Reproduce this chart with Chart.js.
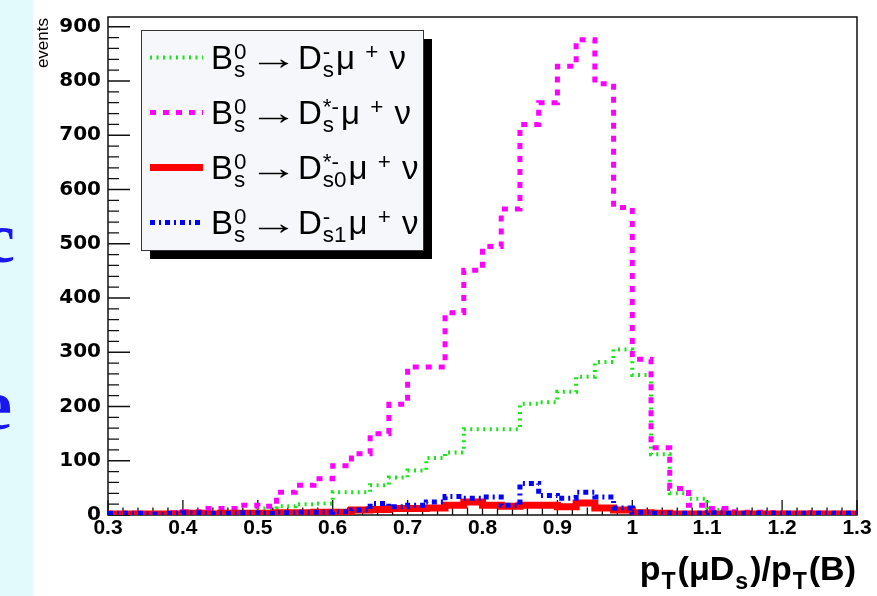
<!DOCTYPE html>
<html>
<head>
<meta charset="utf-8">
<title>pT(muDs)/pT(B)</title>
<script src="https://cdn.jsdelivr.net/npm/chart.js@4.4.1/dist/chart.umd.min.js"></script>
<style>
  html, body { margin: 0; padding: 0; background: #ffffff; }
  #wrap { position: relative; width: 877px; height: 596px; overflow: hidden; }
  #c { position: absolute; left: 0; top: 0; }
</style>
</head>
<body>
<div id="wrap"><canvas id="c" width="877" height="596"></canvas></div>
<script>
// Histogram binning: 40 bins of width 0.025 between 0.3 and 1.3
const binEdges = [0.3, 0.325, 0.35, 0.375, 0.4, 0.425, 0.45, 0.475, 0.5, 0.525,
                  0.55, 0.575, 0.6, 0.625, 0.65, 0.675, 0.7, 0.725, 0.75, 0.775,
                  0.8, 0.825, 0.85, 0.875, 0.9, 0.925, 0.95, 0.975, 1.0, 1.025,
                  1.05, 1.075, 1.1, 1.125, 1.15, 1.175, 1.2, 1.225, 1.25, 1.275, 1.3];

// Events per bin for each decay channel
const dsMuNu = [1, 1, 2, 1, 2, 2, 3, 5, 12, 16,
                20, 21, 42, 42, 55, 69, 82, 105, 115, 158,
                158, 158, 205, 208, 227, 255, 282, 305, 258, 112,
                40, 30, 9, 4, 3, 2, 2, 1, 1, 1];
const dsStarMuNu = [2, 3, 2, 4, 6, 12, 12, 18, 16, 42,
                    55, 67, 91, 113, 150, 204, 273, 273, 373, 451,
                    495, 564, 720, 760, 827, 876, 795, 567, 287, 124,
                    49, 18, 12, 6, 5, 4, 3, 4, 3, 3];
const ds0StarMuNu = [2, 2, 2, 2, 3, 2, 3, 3, 3, 4,
                     4, 5, 5, 9, 10, 12, 12, 13, 18, 24,
                     18, 16, 18, 18, 15, 22, 13, 9, 4, 3,
                     2, 2, 2, 2, 2, 2, 2, 2, 2, 2];
const ds1MuNu = [3, 3, 2, 3, 4, 3, 3, 4, 3, 4,
                 5, 5, 6, 9, 21, 15, 18, 24, 34, 31,
                 33, 18, 58, 36, 31, 42, 33, 13, 5, 3,
                 3, 3, 4, 3, 3, 3, 3, 3, 3, 3];

// Legend entries in TLatex-like notation
const seriesLabels = [
  'B^{0}_{s}→D^{-}_{s}μ ^{+} ν',
  'B^{0}_{s}→D^{*-}_{s}μ ^{+} ν',
  'B^{0}_{s}→D^{*-}_{s0}μ ^{+} ν',
  'B^{0}_{s}→D^{-}_{s1}μ ^{+} ν'
];

const xTickValues = [0.3, 0.4, 0.5, 0.6, 0.7, 0.8, 0.9, 1.0, 1.1, 1.2, 1.3];
const xTickLabels = ['0.3', '0.4', '0.5', '0.6', '0.7', '0.8', '0.9', '1', '1.1', '1.2', '1.3'];
const yTickValues = [0, 100, 200, 300, 400, 500, 600, 700, 800, 900];
const yTickLabels = ['0', '100', '200', '300', '400', '500', '600', '700', '800', '900'];
const xTitle = 'p_{T}(μD_{s})/p_{T}(B)';
const yTitle = 'events';

const SANS = '"Liberation Sans", "DejaVu Sans", Arial, sans-serif';
const WIDE = '"DejaVu Sans", "Liberation Sans", sans-serif';
Chart.defaults.font.family = SANS;

// Histogram outline: each bin value holds from its low edge to the next edge
function toSteps(values) {
  return binEdges.map((e, i) => ({ x: e, y: values[Math.min(i, values.length - 1)] }));
}

// Minimal ^{..} / _{..} text layout
function parseScript(str) {
  const out = [];
  let buf = '';
  for (let i = 0; i < str.length; ) {
    const c = str[i];
    if ((c === '^' || c === '_') && str[i + 1] === '{') {
      if (buf) { out.push({ t: 'n', s: buf }); buf = ''; }
      const end = str.indexOf('}', i + 2);
      out.push({ t: c === '^' ? 'sup' : 'sub', s: str.slice(i + 2, end) });
      i = end + 1;
    } else if (c === '→') {
      if (buf) { out.push({ t: 'n', s: buf }); buf = ''; }
      out.push({ t: 'arrow', s: c });
      i++;
    } else { buf += c; i++; }
  }
  if (buf) out.push({ t: 'n', s: buf });
  return out;
}

function drawScript(ctx, str, x, y, size, weight, align) {
  const toks = parseScript(str);
  const small = size * 0.68;
  const fN = `${weight} ${size}px ${SANS}`;
  const fS = `${weight} ${small}px ${SANS}`;
  const arrowStretch = 1.5;
  const items = [];
  let w = 0;
  for (let k = 0; k < toks.length; k++) {
    const tk = toks[k];
    if (tk.t === 'n') {
      ctx.font = fN;
      items.push({ s: tk.s, x: w, dy: 0, f: fN, sx: 1 });
      w += ctx.measureText(tk.s).width;
    } else if (tk.t === 'arrow') {
      // long, thin arrow: the glyph stretched sideways only
      ctx.font = fN;
      items.push({ s: tk.s, x: w, dy: 0, f: fN, sx: arrowStretch });
      w += ctx.measureText(tk.s).width * arrowStretch;
    } else {
      ctx.font = fS;
      let adv = 0, k2 = k;
      while (k2 < toks.length && (toks[k2].t === 'sup' || toks[k2].t === 'sub') && k2 - k < 2) {
        const t2 = toks[k2];
        items.push({ s: t2.s, x: w + 1, dy: t2.t === 'sup' ? -size * 0.29 : size * 0.26, f: fS, sx: 1 });
        adv = Math.max(adv, ctx.measureText(t2.s).width);
        k2++;
      }
      w += adv + 3;
      k = k2 - 1;
    }
  }
  const x0 = align === 'right' ? x - w : x;
  ctx.textAlign = 'left';
  ctx.textBaseline = 'alphabetic';
  items.forEach(it => {
    ctx.font = it.f;
    ctx.save();
    ctx.translate(x0 + it.x, y + it.dy);
    ctx.scale(it.sx, 1);
    ctx.fillText(it.s, 0, 0);
    ctx.restore();
  });
  return w;
}

const rootDecor = {
  id: 'rootDecor',
  beforeDraw(chart) {
    const { ctx, width, height } = chart;
    ctx.save();
    ctx.fillStyle = '#ffffff';
    ctx.fillRect(0, 0, width, height);
    // slide margin with the ends of the neighbouring slide words
    ctx.fillStyle = '#e3fafd';
    ctx.fillRect(0, 0, 33, height);
    ctx.fillStyle = '#1818ee';
    ctx.font = 'bold 72px "Liberation Serif", serif';
    ctx.textBaseline = 'alphabetic';
    ctx.fillText('c', -17, 262);
    ctx.fillText('e', -20, 429);
    ctx.restore();
  },
  beforeDatasetsDraw(chart) {
    const { ctx, chartArea: a, scales: { x, y } } = chart;
    ctx.save();
    ctx.strokeStyle = '#111111';
    ctx.lineWidth = 1.5;
    ctx.strokeRect(a.left, a.top, a.right - a.left, a.bottom - a.top);
    ctx.lineWidth = 1.3;
    ctx.beginPath();
    // y ticks: primary every 100, secondary every 20, pointing into the frame
    for (let k = 0; k * 20 <= y.max; k++) {
      const py = y.getPixelForValue(k * 20);
      const len = k % 5 === 0 ? 22 : 11;
      ctx.moveTo(a.left, py);
      ctx.lineTo(a.left + len, py);
    }
    // x ticks: primary every 0.1, secondary every 0.02
    for (let k = 0; k <= 50; k++) {
      const px = x.getPixelForValue(0.3 + k * 0.02);
      const len = k % 5 === 0 ? 15 : 7.5;
      ctx.moveTo(px, a.bottom);
      ctx.lineTo(px, a.bottom - len);
    }
    ctx.stroke();
    ctx.restore();
  },
  afterDatasetsDraw(chart) {
    const { ctx, chartArea: a } = chart;
    ctx.save();
    ctx.fillStyle = '#000000';
    // axis titles
    drawScript(ctx, xTitle, a.right - 1, 580, 34, 'bold', 'right');
    ctx.save();
    ctx.translate(43, 18);
    ctx.rotate(-Math.PI / 2);
    ctx.font = `17px ${SANS}`;
    ctx.textAlign = 'right';
    ctx.textBaseline = 'middle';
    ctx.fillText(yTitle, 0, 0);
    ctx.restore();

    // legend box with drop shadow
    const box = { l: 141, t: 30, r: 423, b: 250 };
    const sh = 9;
    ctx.fillStyle = '#000000';
    ctx.fillRect(box.l + sh, box.t + sh, box.r - box.l, box.b - box.t);
    ctx.fillStyle = '#f5f7fa';
    ctx.fillRect(box.l, box.t, box.r - box.l, box.b - box.t);
    ctx.strokeStyle = '#333333';
    ctx.lineWidth = 1;
    ctx.strokeRect(box.l + 0.5, box.t + 0.5, box.r - box.l, box.b - box.t);
    const rowH = (box.b - box.t) / chart.data.datasets.length;
    chart.data.datasets.forEach((ds, i) => {
      const cy = box.t + rowH * (i + 0.5);
      ctx.save();
      ctx.strokeStyle = ds.borderColor;
      ctx.lineWidth = ds.borderWidth;
      ctx.setLineDash(ds.borderDash || []);
      ctx.lineCap = 'butt';
      ctx.beginPath();
      ctx.moveTo(150, cy);
      ctx.lineTo(203, cy);
      ctx.stroke();
      ctx.restore();
      ctx.fillStyle = '#000000';
      drawScript(ctx, ds.label, 211, cy + 11, 33, 'normal', 'left');
    });
    ctx.restore();
  }
};

new Chart(document.getElementById('c'), {
  type: 'line',
  data: {
    datasets: [
      { label: seriesLabels[0], data: toSteps(dsMuNu), borderColor: '#18e418', borderWidth: 4, borderDash: [2, 4.5], order: 4 },
      { label: seriesLabels[1], data: toSteps(dsStarMuNu), borderColor: '#ff00ff', borderWidth: 5, borderDash: [6, 7], order: 3 },
      { label: seriesLabels[2], data: toSteps(ds0StarMuNu), borderColor: '#ff0000', borderWidth: 7, order: 2 },
      { label: seriesLabels[3], data: toSteps(ds1MuNu), borderColor: '#0000ff', borderWidth: 5, borderDash: [5, 4, 2, 4], order: 1 }
    ]
  },
  options: {
    responsive: false,
    animation: false,
    devicePixelRatio: 1,
    datasets: { line: { stepped: 'before', tension: 0, fill: false, pointRadius: 0, borderCapStyle: 'butt', borderJoinStyle: 'miter' } },
    plugins: { legend: { display: false }, tooltip: { enabled: false }, title: { display: false } },
    layout: { padding: { left: 0, right: 20, top: 10, bottom: 0 } },
    scales: {
      x: {
        type: 'linear', min: 0.3, max: 1.3,
        afterBuildTicks: s => { s.ticks = xTickValues.map(v => ({ value: v })); },
        afterFit: s => { s.height = 81; },
        ticks: {
          callback: (v, i) => xTickLabels[i],
          color: '#000000', padding: 3, maxRotation: 0, autoSkip: false,
          font: { size: 21, weight: 'bold', lineHeight: 1 }
        },
        grid: { display: false, drawTicks: false },
        border: { display: false }
      },
      y: {
        type: 'linear', min: 0, max: 918,
        afterBuildTicks: s => { s.ticks = yTickValues.map(v => ({ value: v })); },
        afterFit: s => { s.width = 108; },
        ticks: {
          callback: (v, i) => yTickLabels[i],
          color: '#000000', padding: 7, autoSkip: false,
          font: { family: WIDE, size: 20, weight: 'bold', lineHeight: 1 }
        },
        grid: { display: false, drawTicks: false },
        border: { display: false }
      }
    }
  },
  plugins: [rootDecor]
});
</script>
</body>
</html>
